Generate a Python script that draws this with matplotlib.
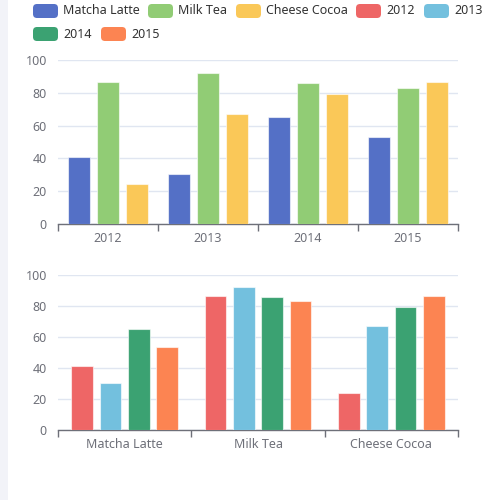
import matplotlib
matplotlib.use("Agg")
import matplotlib.pyplot as plt
from matplotlib.patches import FancyBboxPatch, Rectangle
import numpy as np

plt.rcParams['font.family'] = ['Noto Sans', 'DejaVu Sans']

products = ["Matcha Latte", "Milk Tea", "Cheese Cocoa"]
years = ["2012", "2013", "2014", "2015"]
matcha = [41.1, 30.4, 65.1, 53.3]
milk_tea = [86.5, 92.1, 85.7, 83.1]
cheese = [24.1, 67.2, 79.5, 86.4]
values = [matcha, milk_tea, cheese]

product_colors = ['#5470c6', '#91cc75', '#fac858']
year_colors = ['#ee6666', '#73c0de', '#3ba272', '#fc8452']

AX_COL = '#6e7079'
GRID_COL = '#e0e6f1'

fig = plt.figure(figsize=(5, 5), dpi=100)
fig.patch.set_facecolor('white')
fig.patches.append(Rectangle((0, 0), 8/500, 1, transform=fig.transFigure,
                             facecolor='#f2f3f8', edgecolor='none', zorder=0))

def style(ax, labels):
    ax.set_ylim(0, 100)
    ax.set_yticks(range(0, 101, 20))
    ax.yaxis.grid(True, color=GRID_COL, linewidth=1)
    ax.set_axisbelow(True)
    for s in ['top', 'right', 'left']:
        ax.spines[s].set_visible(False)
    ax.spines['bottom'].set_color(AX_COL)
    ax.spines['bottom'].set_linewidth(1)
    n = len(labels)
    ax.set_xlim(-0.5, n - 0.5)
    ax.set_xticks(np.arange(n))
    ax.set_xticklabels(labels, fontsize=9, color=AX_COL)
    ax.tick_params(axis='x', length=0, pad=6)
    ax.set_xticks(np.arange(n + 1) - 0.5, minor=True)
    ax.tick_params(axis='x', which='minor', length=5, color=AX_COL, width=1)
    ax.tick_params(axis='y', length=0, labelsize=9, labelcolor=AX_COL, pad=8)

# top chart: series per product, categories years
ax1 = fig.add_axes([58/500, 1 - 224/500, 400/500, 164/500])
x = np.arange(len(years))
n = len(products)
w = 0.8 / (n + 0.3 * (n - 1))
for i, (vals, c) in enumerate(zip(values, product_colors)):
    off = (i - (n - 1) / 2) * 1.3 * w
    ax1.bar(x + off, vals, width=w, color=c, edgecolor=(1, 1, 1, 0.6), linewidth=0.8, zorder=3)
style(ax1, years)

# bottom chart: series per year, categories products
ax2 = fig.add_axes([58/500, 1 - 430/500, 400/500, 155/500])
x2 = np.arange(len(products))
m = len(years)
w2 = 0.8 / (m + 0.3 * (m - 1))
for j, c in enumerate(year_colors):
    vals = [v[j] for v in values]
    off = (j - (m - 1) / 2) * 1.3 * w2
    ax2.bar(x2 + off, vals, width=w2, color=c, edgecolor=(1, 1, 1, 0.6), linewidth=0.8, zorder=3)
style(ax2, products)

# legend
legend_labels = products + years
legend_colors = product_colors + year_colors
icon_x = [33, 148, 236, 356, 424, 33, 101]
icon_y = [11, 11, 11, 11, 11, 34, 34]
for lab, col, ix, iy in zip(legend_labels, legend_colors, icon_x, icon_y):
    p = FancyBboxPatch((ix/500, 1 - (iy + 7)/500), 25/500, 14/500,
                       boxstyle="round,pad=0,rounding_size=0.008",
                       transform=fig.transFigure, facecolor=col, edgecolor='none')
    fig.patches.append(p)
    fig.text((ix + 30)/500, 1 - iy/500, lab, fontsize=9, color='#333333',
             va='center', ha='left')

fig.savefig('out.png', dpi=100)
